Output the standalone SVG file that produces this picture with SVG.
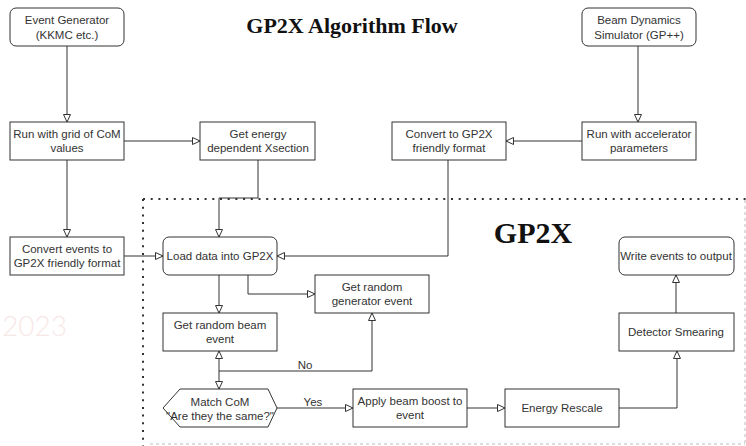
<svg xmlns="http://www.w3.org/2000/svg" width="746" height="446" viewBox="0 0 746 446">
<style>
.box{fill:#fff;stroke:#333;stroke-width:1}
.t{font-family:"Liberation Sans",Arial,sans-serif;font-size:11.5px;fill:#333;text-anchor:middle}
.c{fill:none;stroke:#333;stroke-width:1}
.ttl{font-family:"Liberation Serif","Times New Roman",serif;font-weight:bold;fill:#111;text-anchor:middle}
</style>
<defs>
<marker id="a" markerWidth="10" markerHeight="10" refX="8" refY="4" orient="auto" markerUnits="userSpaceOnUse">
<path d="M0.5,0.5 L8,4 L0.5,7.5 Z" fill="#fff" stroke="#333" stroke-width="1"/>
</marker>
</defs>
<rect width="746" height="446" fill="#fff"/>
<text x="2" y="336" font-family="Lato,'Liberation Sans',sans-serif" font-size="28" font-weight="300" fill="#f7e8e8">2023</text>

<g id="container">
<line x1="143" y1="199" x2="746" y2="199" stroke="#333" stroke-width="2" stroke-dasharray="2 5.7"/>
<line x1="143" y1="199" x2="143" y2="446" stroke="#333" stroke-width="2" stroke-dasharray="2 5.7"/>
<line x1="745" y1="200" x2="745" y2="444" stroke="#bbb" stroke-width="1" stroke-dasharray="3 3"/>
<line x1="150" y1="444" x2="745" y2="444" stroke="#bbb" stroke-width="1" stroke-dasharray="3 3"/>
</g>

<text class="ttl" x="352" y="33" font-size="22">GP2X Algorithm Flow</text>
<text class="ttl" x="533" y="243" font-size="30">GP2X</text>

<g id="connectors">
<path class="c" d="M67,46 V122" marker-end="url(#a)"/>
<path class="c" d="M124,141 H200" marker-end="url(#a)"/>
<path class="c" d="M638,46 V122" marker-end="url(#a)"/>
<path class="c" d="M582,141 H506" marker-end="url(#a)"/>
<path class="c" d="M67,160 V237" marker-end="url(#a)"/>
<path class="c" d="M124,256 H163" marker-end="url(#a)"/>
<path class="c" d="M258,160 V198 H219 V237" marker-end="url(#a)"/>
<path class="c" d="M448,160 V256 H277" marker-end="url(#a)"/>
<path class="c" d="M219,275 V313" marker-end="url(#a)"/>
<path class="c" d="M248,275 V294 H315" marker-end="url(#a)"/>
<path class="c" d="M219,370 V351" marker-end="url(#a)"/>
<path class="c" d="M219,370 V389" marker-end="url(#a)"/>
<path class="c" d="M219,371 H372 V313" marker-end="url(#a)"/>
<path class="c" d="M277,408 H353" marker-end="url(#a)"/>
<path class="c" d="M467,408 H505" marker-end="url(#a)"/>
<path class="c" d="M619,408 H677 V351" marker-end="url(#a)"/>
<path class="c" d="M676,313 V275" marker-end="url(#a)"/>
<text class="t" x="305" y="369">No</text>
<text class="t" x="313" y="406">Yes</text>
</g>

<g id="event-generator">
<rect class="box" x="10" y="8" width="114" height="38" rx="6"/>
<text class="t" x="67" y="24">Event Generator</text>
<text class="t" x="67" y="39">(KKMC etc.)</text>
</g>
<g id="run-grid">
<rect class="box" x="10" y="122" width="114" height="38"/>
<text class="t" x="67" y="138">Run with grid of CoM</text>
<text class="t" x="67" y="152">values</text>
</g>
<g id="get-xsection">
<rect class="box" x="200" y="122" width="115" height="38"/>
<text class="t" x="258" y="138">Get energy</text>
<text class="t" x="258" y="152">dependent Xsection</text>
</g>
<g id="beam-dynamics">
<rect class="box" x="582" y="8" width="114" height="38" rx="6"/>
<text class="t" x="639" y="24">Beam Dynamics</text>
<text class="t" x="639" y="39">Simulator (GP++)</text>
</g>
<g id="run-accel">
<rect class="box" x="582" y="122" width="114" height="38"/>
<text class="t" x="639" y="138">Run with accelerator</text>
<text class="t" x="639" y="152">parameters</text>
</g>
<g id="convert-beam">
<rect class="box" x="392" y="122" width="114" height="38"/>
<text class="t" x="449" y="138">Convert to GP2X</text>
<text class="t" x="449" y="152">friendly format</text>
</g>
<g id="convert-events">
<rect class="box" x="10" y="237" width="114" height="38"/>
<text class="t" x="67" y="253">Convert events to</text>
<text class="t" x="67" y="267">GP2X friendly format</text>
</g>
<g id="load-data">
<rect class="box" x="163" y="237" width="114" height="38" rx="6"/>
<text class="t" x="220" y="260">Load data into GP2X</text>
</g>
<g id="random-generator">
<rect class="box" x="315" y="275" width="114" height="38"/>
<text class="t" x="372" y="291">Get random</text>
<text class="t" x="372" y="305">generator event</text>
</g>
<g id="random-beam">
<rect class="box" x="163" y="313" width="114" height="38"/>
<text class="t" x="220" y="329">Get random beam</text>
<text class="t" x="220" y="343">event</text>
</g>
<g id="match-com">
<polygon class="box" points="163,408 180,389 268,389 277,408 268,427 180,427"/>
<text class="t" x="220" y="406">Match CoM</text>
<text class="t" x="220" y="420">"Are they the same?"</text>
</g>
<g id="beam-boost">
<rect class="box" x="353" y="389" width="114" height="38"/>
<text class="t" x="410" y="405">Apply beam boost to</text>
<text class="t" x="410" y="419">event</text>
</g>
<g id="energy-rescale">
<rect class="box" x="505" y="389" width="114" height="38"/>
<text class="t" x="562" y="412">Energy Rescale</text>
</g>
<g id="detector-smearing">
<rect class="box" x="619" y="313" width="115" height="38"/>
<text class="t" x="676" y="336">Detector Smearing</text>
</g>
<g id="write-output">
<rect class="box" x="619" y="237" width="115" height="38" rx="6"/>
<text class="t" x="676" y="260">Write events to output</text>
</g>
</svg>
